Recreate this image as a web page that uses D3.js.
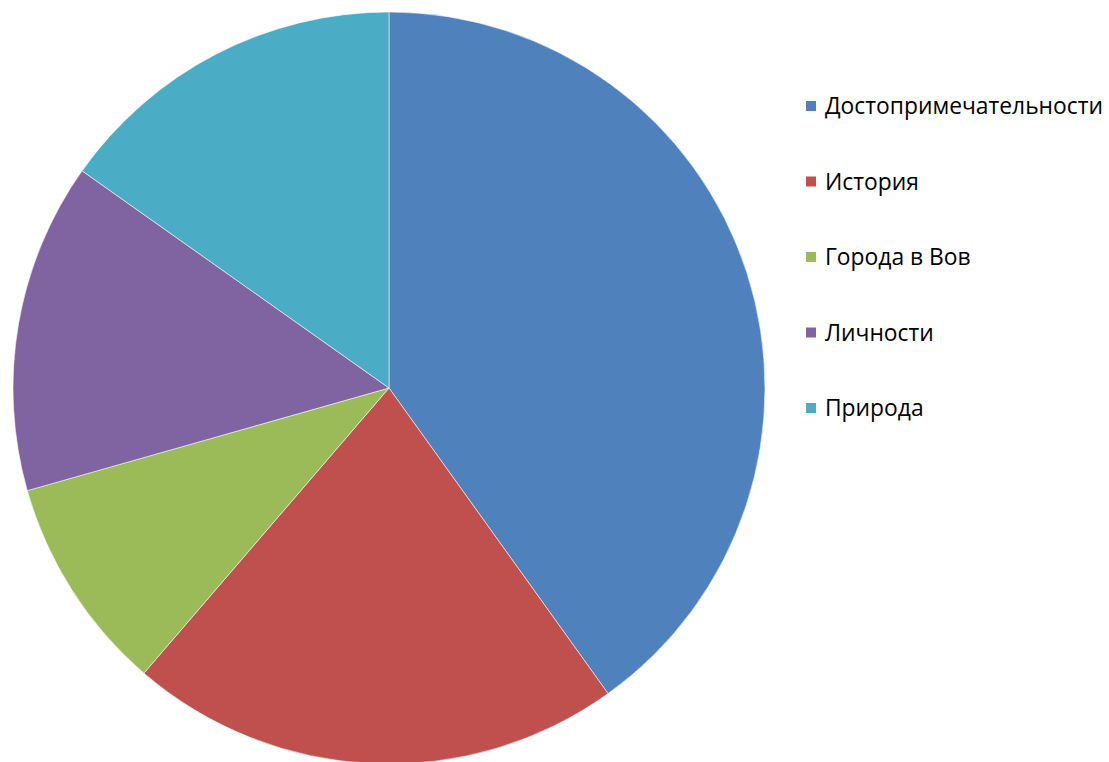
<!DOCTYPE html>
<html>
<head>
<meta charset="utf-8">
<script src="https://cdn.jsdelivr.net/npm/d3@7"></script>
<style>
  body { margin: 0; background: #fff; }
  svg { display: block; }
  .legend text { font-family: "Open Sans", "Noto Sans", sans-serif; fill: #000; }
</style>
</head>
<body>
<svg width="1109" height="762"></svg>
<script>
// categories and shares (percent)
var categories = ["Достопримечательности", "История", "Города в Вов", "Личности", "Природа"];
var values = [40.1, 21.2, 9.3, 14.2, 15.2];
var colours = ["#4F81BD", "#C0504D", "#9BBB59", "#8064A2", "#4BACC6"];

var svg = d3.select("svg"),
    cx = 389, cy = 388,
    radius = 376;

var data = categories.map(function(c, i) { return {name: c, value: values[i]}; });

var pie = d3.pie()
    .sort(null)
    .value(function(d) { return d.value; });

var arc = d3.arc()
    .innerRadius(0)
    .outerRadius(radius);

var colour = d3.scaleOrdinal().domain(categories).range(colours);

var g = svg.append("g").attr("transform", "translate(" + cx + "," + cy + ")");

g.selectAll("path")
    .data(pie(data))
    .enter().append("path")
    .attr("d", arc)
    .attr("fill", function(d) { return colour(d.data.name); })
    .attr("stroke", "rgba(255,255,255,0.55)")
    .attr("stroke-width", 1);

// legend
var legend = svg.append("g").attr("class", "legend");
var rowY = d3.scalePoint().domain(categories).range([106, 408]);

var items = legend.selectAll("g")
    .data(categories)
    .enter().append("g")
    .attr("transform", function(d) { return "translate(806," + rowY(d) + ")"; });

items.append("rect")
    .attr("x", 0)
    .attr("y", -5)
    .attr("width", 10)
    .attr("height", 10)
    .attr("fill", function(d) { return colour(d); });

var labels = items.append("text")
    .attr("x", 19)
    .attr("dy", "0.35em")
    .style("font-size", "20px")
    .text(function(d) { return d; });

// fit the longest label to the width it has in the picture
var w = labels.nodes()[0].getComputedTextLength();
var fs = 20 * 278 / w;
labels.style("font-size", fs + "px");
</script>
</body>
</html>
